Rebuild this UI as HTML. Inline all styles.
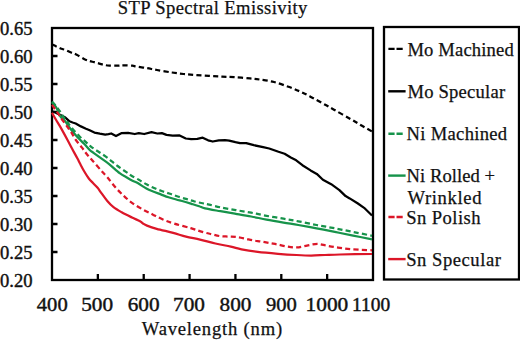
<!DOCTYPE html>
<html><head><meta charset="utf-8"><style>
html,body{margin:0;padding:0;background:#fff;}
body{width:520px;height:340px;overflow:hidden;}
svg{display:block;}
text{font-family:"Liberation Serif", serif;font-size:18.6px;fill:#111;stroke:#111;stroke-width:0.25px;}
text.num{stroke-width:0.4px;}
</style></head><body>
<svg width="520" height="340" viewBox="0 0 520 340">
<text id="title" x="117.80" y="13.5" textLength="189.51" lengthAdjust="spacing">STP Spectral Emissivity</text>
<text id="y0" class="num" x="-0.00" y="34.5" textLength="32.52" lengthAdjust="spacingAndGlyphs">0.65</text>
<text id="y1" class="num" x="-0.00" y="62.5" textLength="32.52" lengthAdjust="spacingAndGlyphs">0.60</text>
<text id="y2" class="num" x="-0.00" y="90.5" textLength="32.52" lengthAdjust="spacingAndGlyphs">0.55</text>
<text id="y3" class="num" x="-0.00" y="118.5" textLength="32.52" lengthAdjust="spacingAndGlyphs">0.50</text>
<text id="y4" class="num" x="-0.00" y="146.5" textLength="32.52" lengthAdjust="spacingAndGlyphs">0.45</text>
<text id="y5" class="num" x="-0.00" y="174.5" textLength="32.52" lengthAdjust="spacingAndGlyphs">0.40</text>
<text id="y6" class="num" x="-0.00" y="202.5" textLength="32.52" lengthAdjust="spacingAndGlyphs">0.35</text>
<text id="y7" class="num" x="-0.00" y="230.5" textLength="32.52" lengthAdjust="spacingAndGlyphs">0.30</text>
<text id="y8" class="num" x="-0.00" y="258.5" textLength="32.52" lengthAdjust="spacingAndGlyphs">0.25</text>
<text id="y9" class="num" x="-0.00" y="286.5" textLength="32.52" lengthAdjust="spacingAndGlyphs">0.20</text>
<text id="x0" class="num" x="36.81" y="310.5" textLength="30.87" lengthAdjust="spacingAndGlyphs">400</text>
<text id="x1" class="num" x="81.24" y="310.5" textLength="31.90" lengthAdjust="spacingAndGlyphs">500</text>
<text id="x2" class="num" x="127.67" y="310.5" textLength="31.90" lengthAdjust="spacingAndGlyphs">600</text>
<text id="x3" class="num" x="173.12" y="310.5" textLength="31.90" lengthAdjust="spacingAndGlyphs">700</text>
<text id="x4" class="num" x="219.57" y="310.5" textLength="31.90" lengthAdjust="spacingAndGlyphs">800</text>
<text id="x5" class="num" x="266.00" y="310.5" textLength="30.91" lengthAdjust="spacingAndGlyphs">900</text>
<text id="x6" class="num" x="305.57" y="310.5" textLength="42.75" lengthAdjust="spacingAndGlyphs">1000</text>
<text id="x7" class="num" x="351.97" y="310.5" textLength="38.15" lengthAdjust="spacingAndGlyphs">1100</text>
<text id="xl" x="141.80" y="335.2" textLength="140.29" lengthAdjust="spacing">Wavelength (nm)</text>
<text id="l0" x="407.40" y="55.6" textLength="106.30" lengthAdjust="spacing">Mo Machined</text>
<text id="l1" x="407.40" y="97.8" textLength="97.71" lengthAdjust="spacing">Mo Specular</text>
<text id="l2" x="406.61" y="140.2" textLength="100.50" lengthAdjust="spacing">Ni Machined</text>
<text id="l3" x="406.59" y="182.0" textLength="88.51" lengthAdjust="spacing">Ni Rolled +</text>
<text id="l4" x="407.41" y="203.5" textLength="74.09" lengthAdjust="spacing">Wrinkled</text>
<text id="l5" x="406.19" y="223.5" textLength="74.32" lengthAdjust="spacing">Sn Polish</text>
<text id="l6" x="406.19" y="265.9" textLength="94.71" lengthAdjust="spacing">Sn Specular</text>
<rect x="52" y="28" width="321" height="252" fill="none" stroke="#000" stroke-width="2.3"/>
<path d="M52,56 L57.5,56 M52,84 L57.5,84 M52,112 L57.5,112 M52,140 L57.5,140 M52,168 L57.5,168 M52,196 L57.5,196 M52,224 L57.5,224 M52,252 L57.5,252 M97.86,280 L97.86,274 M143.72,280 L143.72,274 M189.58,280 L189.58,274 M235.44,280 L235.44,274 M281.30,280 L281.30,274 M327.16,280 L327.16,274" stroke="#000" stroke-width="2.3" fill="none"/>
<path d="M52.00,44.40 C52.87,44.82 55.62,46.17 57.20,46.90 C58.78,47.63 60.13,48.30 61.50,48.80 C62.87,49.30 63.72,49.25 65.40,49.90 C67.08,50.55 69.72,51.90 71.60,52.70 C73.48,53.50 74.63,53.67 76.70,54.70 C78.77,55.73 81.93,57.87 84.00,58.90 C86.07,59.93 87.40,60.35 89.10,60.90 C90.80,61.45 92.48,61.75 94.20,62.20 C95.92,62.65 97.68,63.13 99.40,63.60 C101.12,64.07 102.78,64.67 104.50,65.00 C106.22,65.33 107.47,65.48 109.70,65.60 C111.93,65.72 115.68,65.73 117.90,65.70 C120.12,65.67 120.60,65.40 123.00,65.40 C125.40,65.40 130.07,65.52 132.30,65.70 C134.53,65.88 134.00,66.10 136.40,66.50 C138.80,66.90 143.27,67.52 146.70,68.10 C150.13,68.68 152.78,69.27 157.00,70.00 C161.22,70.73 167.58,71.83 172.00,72.50 C176.42,73.17 179.67,73.58 183.50,74.00 C187.33,74.42 190.75,74.68 195.00,75.00 C199.25,75.32 204.50,75.63 209.00,75.90 C213.50,76.17 217.83,76.40 222.00,76.60 C226.17,76.80 229.33,76.80 234.00,77.10 C238.67,77.40 245.67,77.98 250.00,78.40 C254.33,78.82 256.00,79.00 260.00,79.60 C264.00,80.20 269.25,80.80 274.00,82.00 C278.75,83.20 284.17,85.22 288.50,86.80 C292.83,88.38 296.42,89.90 300.00,91.50 C303.58,93.10 306.33,94.48 310.00,96.40 C313.67,98.32 318.00,100.78 322.00,103.00 C326.00,105.22 329.17,106.98 334.00,109.70 C338.83,112.42 346.33,116.62 351.00,119.30 C355.67,121.98 358.50,123.77 362.00,125.80 C365.50,127.83 370.33,130.55 372.00,131.50" fill="none" stroke="#000" stroke-width="2.25" stroke-linejoin="round" stroke-dasharray="5.1,3.2"/>
<path d="M52.0,111.6 L55.1,112.2 L58.2,114.0 L61.5,115.6 L65.4,117.6 L69.5,121.3 L72.6,122.5 L75.7,123.5 L80.9,126.4 L86.0,128.7 L89.1,130.0 L94.4,132.6 L99.8,133.7 L105.2,134.6 L108.5,134.2 L111.2,133.5 L116.0,136.0 L121.3,133.2 L128.1,132.8 L134.8,134.0 L138.8,133.2 L144.2,134.0 L151.5,132.2 L157.3,133.5 L161.9,133.1 L166.5,134.9 L172.7,135.7 L179.6,135.4 L185.8,138.5 L191.2,139.2 L197.3,138.9 L202.7,137.7 L208.1,140.3 L212.7,141.5 L218.8,140.3 L225.0,140.2 L229.2,140.6 L235.4,142.2 L240.0,143.1 L246.2,143.1 L253.8,145.2 L263.1,147.2 L269.2,148.5 L278.5,151.8 L284.6,153.8 L290.8,157.5 L296.2,160.3 L302.4,165.2 L310.6,170.4 L316.8,173.9 L322.9,179.7 L331.2,184.2 L339.4,190.1 L345.6,196.1 L349.7,198.4 L357.9,203.5 L364.1,207.8 L372.0,215.5" fill="none" stroke="#000" stroke-width="2.25" stroke-linejoin="round"/>
<path d="M52.00,101.60 C52.67,102.33 54.67,104.35 56.00,106.00 C57.33,107.65 58.77,109.70 60.00,111.50 C61.23,113.30 62.23,115.13 63.40,116.80 C64.57,118.47 65.70,119.77 67.00,121.50 C68.30,123.23 69.13,124.75 71.20,127.20 C73.27,129.65 76.85,133.63 79.40,136.20 C81.95,138.77 84.53,140.83 86.50,142.60 C88.47,144.37 89.25,145.32 91.20,146.80 C93.15,148.28 95.47,149.65 98.20,151.50 C100.93,153.35 104.37,155.48 107.60,157.90 C110.83,160.32 114.22,163.45 117.60,166.00 C120.98,168.55 125.58,171.57 127.90,173.20 C130.22,174.83 129.62,174.67 131.50,175.80 C133.38,176.93 136.63,178.53 139.20,180.00 C141.77,181.47 144.33,183.23 146.90,184.60 C149.47,185.97 152.03,187.10 154.60,188.20 C157.17,189.30 159.73,190.27 162.30,191.20 C164.87,192.13 167.43,192.92 170.00,193.80 C172.57,194.68 174.88,195.60 177.70,196.50 C180.52,197.40 184.08,198.37 186.90,199.20 C189.72,200.03 191.78,200.78 194.60,201.50 C197.42,202.22 201.37,202.98 203.80,203.50 C206.23,204.02 206.43,203.97 209.20,204.60 C211.97,205.23 215.97,206.38 220.40,207.30 C224.83,208.22 230.67,209.20 235.80,210.10 C240.93,211.00 246.08,211.75 251.20,212.70 C256.32,213.65 261.12,214.80 266.50,215.80 C271.88,216.80 278.20,217.78 283.50,218.70 C288.80,219.62 292.78,220.25 298.30,221.30 C303.82,222.35 310.52,223.83 316.60,225.00 C322.68,226.17 328.72,227.15 334.80,228.30 C340.88,229.45 346.90,230.65 353.10,231.90 C359.30,233.15 368.85,235.15 372.00,235.80" fill="none" stroke="#16934a" stroke-width="2.25" stroke-linejoin="round" stroke-dasharray="5.1,3.2"/>
<path d="M52.00,102.40 C52.67,103.17 54.62,104.68 56.00,107.00 C57.38,109.32 58.80,113.97 60.30,116.30 C61.80,118.63 63.38,119.00 65.00,121.00 C66.62,123.00 67.98,125.67 70.00,128.30 C72.02,130.93 74.75,134.22 77.10,136.80 C79.45,139.38 81.95,141.55 84.10,143.80 C86.25,146.05 88.43,148.80 90.00,150.30 C91.57,151.80 91.73,151.53 93.50,152.80 C95.27,154.07 98.05,156.07 100.60,157.90 C103.15,159.73 105.62,161.25 108.80,163.80 C111.98,166.35 116.83,171.00 119.70,173.20 C122.57,175.40 123.95,175.80 126.00,177.00 C128.05,178.20 130.05,179.38 132.00,180.40 C133.95,181.42 135.30,181.75 137.70,183.10 C140.10,184.45 143.83,187.10 146.40,188.50 C148.97,189.90 150.70,190.52 153.10,191.50 C155.50,192.48 158.23,193.43 160.80,194.40 C163.37,195.37 165.93,196.45 168.50,197.30 C171.07,198.15 173.65,198.80 176.20,199.50 C178.75,200.20 181.25,200.78 183.80,201.50 C186.35,202.22 188.93,203.02 191.50,203.80 C194.07,204.58 196.95,205.43 199.20,206.20 C201.45,206.97 201.47,207.57 205.00,208.40 C208.53,209.23 215.27,210.30 220.40,211.20 C225.53,212.10 230.67,212.92 235.80,213.80 C240.93,214.68 246.08,215.53 251.20,216.50 C256.32,217.47 261.12,218.58 266.50,219.60 C271.88,220.62 278.20,221.70 283.50,222.60 C288.80,223.50 292.78,224.05 298.30,225.00 C303.82,225.95 310.52,227.15 316.60,228.30 C322.68,229.45 328.72,230.68 334.80,231.90 C340.88,233.12 346.90,234.37 353.10,235.60 C359.30,236.83 368.85,238.68 372.00,239.30" fill="none" stroke="#16934a" stroke-width="2.25" stroke-linejoin="round"/>
<path d="M52.00,104.80 C52.83,105.97 55.45,109.53 57.00,111.80 C58.55,114.07 59.72,116.10 61.30,118.40 C62.88,120.70 64.85,123.32 66.50,125.60 C68.15,127.88 69.63,129.70 71.20,132.10 C72.77,134.50 74.13,137.45 75.90,140.00 C77.67,142.55 80.03,145.10 81.80,147.40 C83.57,149.70 84.73,151.62 86.50,153.80 C88.27,155.98 89.95,157.70 92.40,160.50 C94.85,163.30 98.72,167.80 101.20,170.60 C103.68,173.40 104.90,174.47 107.30,177.30 C109.70,180.13 112.85,184.50 115.60,187.60 C118.35,190.70 121.07,193.37 123.80,195.90 C126.53,198.43 128.92,200.58 132.00,202.80 C135.08,205.02 138.87,207.27 142.30,209.20 C145.73,211.13 149.17,212.68 152.60,214.40 C156.03,216.12 159.30,217.97 162.90,219.50 C166.50,221.03 169.55,222.15 174.20,223.60 C178.85,225.05 186.12,226.82 190.80,228.20 C195.48,229.58 198.85,230.90 202.30,231.90 C205.75,232.90 208.55,233.50 211.50,234.20 C214.45,234.90 217.17,235.70 220.00,236.10 C222.83,236.50 225.80,236.45 228.50,236.60 C231.20,236.75 233.52,236.68 236.20,237.00 C238.88,237.32 241.78,237.93 244.60,238.50 C247.42,239.07 250.28,239.88 253.10,240.40 C255.92,240.92 258.68,241.13 261.50,241.60 C264.32,242.07 267.30,242.72 270.00,243.20 C272.70,243.68 274.87,243.95 277.70,244.50 C280.53,245.05 283.82,246.02 287.00,246.50 C290.18,246.98 293.47,247.55 296.80,247.40 C300.13,247.25 303.57,246.18 307.00,245.60 C310.43,245.02 314.07,243.87 317.40,243.90 C320.73,243.93 323.57,245.18 327.00,245.80 C330.43,246.42 333.83,247.02 338.00,247.60 C342.17,248.18 346.33,248.85 352.00,249.30 C357.67,249.75 368.67,250.13 372.00,250.30" fill="none" stroke="#dc1628" stroke-width="2.25" stroke-linejoin="round" stroke-dasharray="5.1,3.2"/>
<path d="M52.00,112.80 C52.67,113.97 54.57,117.37 56.00,119.80 C57.43,122.23 58.68,124.03 60.60,127.40 C62.52,130.77 65.60,136.48 67.50,140.00 C69.40,143.52 70.32,145.37 72.00,148.50 C73.68,151.63 76.27,156.28 77.60,158.80 C78.93,161.32 78.93,161.57 80.00,163.60 C81.07,165.63 82.53,168.52 84.00,171.00 C85.47,173.48 87.30,176.50 88.80,178.50 C90.30,180.50 91.53,181.45 93.00,183.00 C94.47,184.55 96.23,186.17 97.60,187.80 C98.97,189.43 99.58,190.60 101.20,192.80 C102.82,195.00 105.25,198.60 107.30,201.00 C109.35,203.40 111.10,205.32 113.50,207.20 C115.90,209.08 118.62,210.58 121.70,212.30 C124.78,214.02 128.95,216.02 132.00,217.50 C135.05,218.98 138.17,220.20 140.00,221.20 C141.83,222.20 141.83,222.77 143.00,223.50 C144.17,224.23 144.72,224.72 147.00,225.60 C149.28,226.48 152.33,227.58 156.70,228.80 C161.07,230.02 168.32,231.60 173.20,232.90 C178.08,234.20 181.53,235.48 186.00,236.60 C190.47,237.72 195.10,238.45 200.00,239.60 C204.90,240.75 210.27,242.33 215.40,243.50 C220.53,244.67 226.45,245.63 230.80,246.60 C235.15,247.57 237.02,248.42 241.50,249.30 C245.98,250.18 251.62,251.15 257.70,251.90 C263.78,252.65 271.53,253.28 278.00,253.80 C284.47,254.32 290.97,254.72 296.50,255.00 C302.03,255.28 306.45,255.50 311.20,255.50 C315.95,255.50 320.20,255.17 325.00,255.00 C329.80,254.83 332.17,254.67 340.00,254.50 C347.83,254.33 366.67,254.08 372.00,254.00" fill="none" stroke="#dc1628" stroke-width="2.25" stroke-linejoin="round"/>
<rect x="384" y="27" width="135" height="252.5" fill="none" stroke="#000" stroke-width="2.3"/>
<path d="M388.4,48.9 L394.6,48.9 M396.5,48.9 L402.7,48.9" stroke="#000" stroke-width="2.4" fill="none"/>
<path d="M388.2,91.3 L405.6,91.3" stroke="#000" stroke-width="2.4" fill="none"/>
<path d="M388.4,133.7 L394.6,133.7 M396.5,133.7 L402.7,133.7" stroke="#16934a" stroke-width="2.4" fill="none"/>
<path d="M388.2,175.6 L405.6,175.6" stroke="#16934a" stroke-width="2.4" fill="none"/>
<path d="M388.4,217.0 L394.6,217.0 M396.5,217.0 L402.7,217.0" stroke="#dc1628" stroke-width="2.4" fill="none"/>
<path d="M388.2,259.1 L405.6,259.1" stroke="#dc1628" stroke-width="2.4" fill="none"/>
</svg>
</body></html>
